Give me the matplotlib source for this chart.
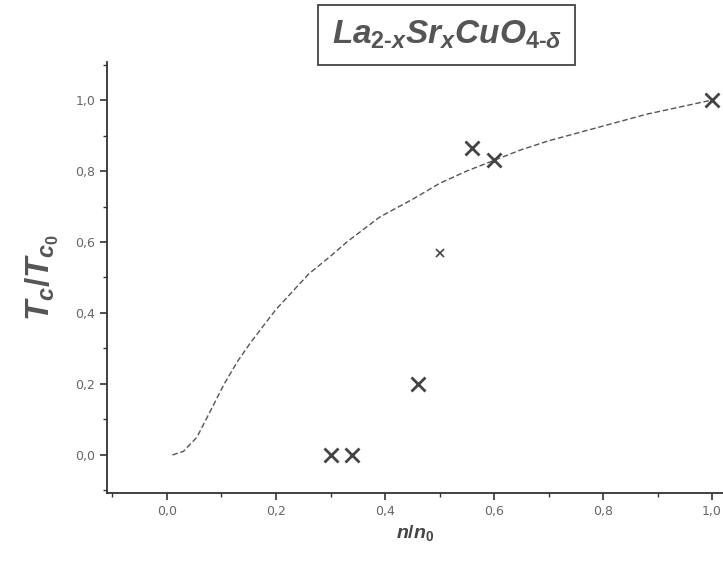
import matplotlib.pyplot as plt
import numpy as np
from matplotlib.ticker import MultipleLocator, FuncFormatter

plt.rcParams['mathtext.fontset'] = 'custom'
plt.rcParams['mathtext.it'] = 'Liberation Sans:italic:bold'
plt.rcParams['mathtext.rm'] = 'Liberation Sans:bold'
plt.rcParams['mathtext.bf'] = 'Liberation Sans:italic:bold'

# measured points (n/n0, Tc/Tc0)
n_pts = [0.30, 0.34, 0.46, 0.56, 0.60, 1.00]
tc_pts = [0.0, 0.0, 0.20, 0.865, 0.83, 1.0]
# the faint, smaller cross
n_faint = [0.50]
tc_faint = [0.57]

# guide curve
n_curve = [0.01, 0.03, 0.055, 0.08, 0.105, 0.13, 0.155, 0.18, 0.20, 0.23, 0.26, 0.30,
           0.33, 0.39, 0.45, 0.50, 0.55, 0.60, 0.65, 0.70, 0.76, 0.82, 0.88, 0.94, 1.0]
tc_curve = [0.0, 0.01, 0.05, 0.125, 0.20, 0.265, 0.32, 0.37, 0.41, 0.46, 0.51, 0.56,
            0.60, 0.67, 0.72, 0.765, 0.80, 0.83, 0.86, 0.885, 0.91, 0.935, 0.96, 0.98, 1.0]

xticks = [0.0, 0.2, 0.4, 0.6, 0.8, 1.0]
yticks = [0.0, 0.2, 0.4, 0.6, 0.8, 1.0]

fig = plt.figure(figsize=(7.23, 5.64), dpi=100)
ax = fig.add_axes([0.148, 0.126, 0.852, 0.764])

ax.plot(n_curve, tc_curve, color='#555555', lw=1.0, ls=(0, (4, 2)))
ax.plot(n_pts, tc_pts, 'x', color='#444444', ms=10, mew=2)
ax.plot(n_faint, tc_faint, 'x', color='#444444', ms=6, mew=1.2)

ax.set_xlim(-0.11, 1.02)
ax.set_ylim(-0.107, 1.107)
ax.set_xticks(xticks)
ax.set_yticks(yticks)
ax.xaxis.set_minor_locator(MultipleLocator(0.1))
ax.yaxis.set_minor_locator(MultipleLocator(0.1))
comma = FuncFormatter(lambda v, p: f'{v:.1f}'.replace('.', ','))
ax.xaxis.set_major_formatter(comma)
ax.yaxis.set_major_formatter(comma)

for s in ['top', 'right']:
    ax.spines[s].set_visible(False)
for s in ['left', 'bottom']:
    ax.spines[s].set_color('#333333')
    ax.spines[s].set_linewidth(1.3)
ax.tick_params(which='major', direction='out', length=5, width=1.2, color='#333333',
               labelsize=9, labelcolor='#666666')
ax.tick_params(which='minor', direction='out', length=3, width=1.0, color='#333333')

ax.set_xlabel(r'$n/n_0$', fontsize=14, color='#444444')
ax.set_ylabel(r'$T_c/T_{c_0}$', fontsize=24, color='#555555', labelpad=10)

fig.text(0.618, 0.938, r'$La_{2\text{-}x}Sr_xCuO_{4\text{-}\delta}$', fontsize=24,
         color='#555555', ha='center', va='center',
         bbox=dict(boxstyle='square,pad=0.4', fc='none', ec='#444444', lw=1.3))

fig.savefig('out.png', dpi=100)
